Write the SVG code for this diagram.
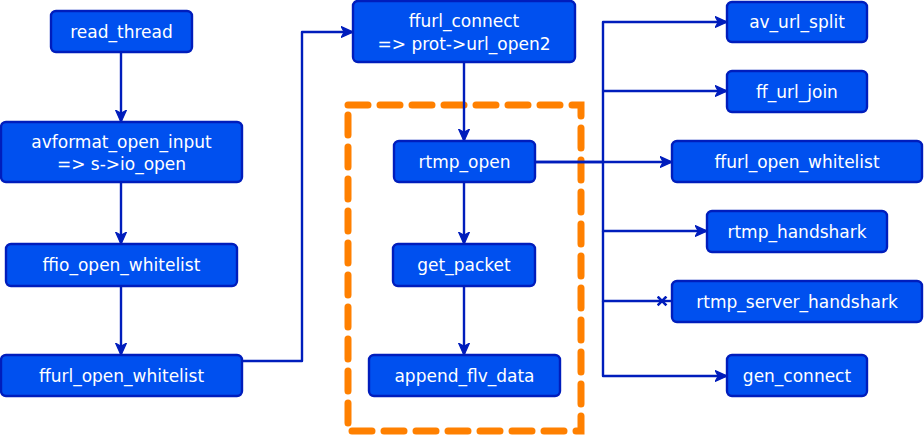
<svg xmlns="http://www.w3.org/2000/svg" width="924" height="435" viewBox="0 0 924 435">
<style>
.node rect{fill:#0050EF;stroke:#001DBC;stroke-width:2.4}
.node text{fill:#ffffff;font-family:"DejaVu Sans",Verdana,sans-serif;font-size:17px;text-anchor:middle;dominant-baseline:central}
.edge{fill:none;stroke:#001DBC;stroke-width:2.4;stroke-linejoin:round}
.group{fill:none;stroke:#FF8000;stroke-width:7;stroke-dasharray:20 12;stroke-linecap:round}
</style>
<defs>
<marker id="arr" viewBox="0 0 10 10" refX="9" refY="5" markerWidth="12" markerHeight="12" markerUnits="userSpaceOnUse" orient="auto">
<path d="M0,0.5 L10,5 L0,9.5 L2.5,5 Z" fill="#001DBC" stroke="#001DBC" stroke-width="1"/>
</marker>
<marker id="cross" viewBox="0 0 10 10" refX="5" refY="5" markerWidth="11" markerHeight="11" markerUnits="userSpaceOnUse" orient="auto">
<path d="M1,1 L9,9 M9,1 L1,9" stroke="#001DBC" stroke-width="2.4" fill="none"/>
</marker>
</defs>
<rect class="group" x="348" y="105" width="233" height="326"/>
<g id="connectors">
<path class="edge" d="M121,51 V121" marker-end="url(#arr)"/>
<path class="edge" d="M121,182 V243" marker-end="url(#arr)"/>
<path class="edge" d="M121,286 V354" marker-end="url(#arr)"/>
<path class="edge" d="M242,361 H302 V32 H352" marker-end="url(#arr)"/>
<path class="edge" d="M464,62 V140" marker-end="url(#arr)"/>
<path class="edge" d="M464,182 V243" marker-end="url(#arr)"/>
<path class="edge" d="M464,286 V354" marker-end="url(#arr)"/>
<path class="edge" d="M535,162 H603 V22 H726" marker-end="url(#arr)"/>
<path class="edge" d="M603,91 H726" marker-end="url(#arr)"/>
<path class="edge" d="M535,162 H671" marker-end="url(#arr)"/>
<path class="edge" d="M603,162 V231 H706" marker-end="url(#arr)"/>
<path class="edge" d="M603,231 V301 H662" marker-end="url(#cross)"/>
<path class="edge" d="M662,301 H672"/>
<path class="edge" d="M603,301 V376 H726" marker-end="url(#arr)"/>
</g>
<g id="read_thread" class="node"><rect x="51" y="11" width="141" height="41" rx="5"/><text x="121.5" y="31.5">read_thread</text></g>
<g id="avformat_open_input" class="node"><rect x="1" y="122" width="241" height="60" rx="5"/><text x="121.5" y="141.5">avformat_open_input</text><text x="121.5" y="164">=&gt; s-&gt;io_open</text></g>
<g id="ffio_open_whitelist" class="node"><rect x="6" y="244" width="231" height="42" rx="5"/><text x="121.5" y="265">ffio_open_whitelist</text></g>
<g id="ffurl_open_whitelist_left" class="node"><rect x="1" y="355" width="241" height="41" rx="5"/><text x="121.5" y="375.5">ffurl_open_whitelist</text></g>
<g id="ffurl_connect" class="node"><rect x="353" y="1" width="222" height="61" rx="5"/><text x="464" y="21">ffurl_connect</text><text x="464" y="44">=&gt; prot-&gt;url_open2</text></g>
<g id="rtmp_open" class="node"><rect x="394" y="141" width="141" height="41" rx="5"/><text x="464.5" y="161.5">rtmp_open</text></g>
<g id="get_packet" class="node"><rect x="393" y="244" width="142" height="42" rx="5"/><text x="464" y="265">get_packet</text></g>
<g id="append_flv_data" class="node"><rect x="369" y="355" width="191" height="41" rx="5"/><text x="464.5" y="375.5">append_flv_data</text></g>
<g id="av_url_split" class="node"><rect x="727" y="2" width="140" height="40" rx="5"/><text x="797" y="22">av_url_split</text></g>
<g id="ff_url_join" class="node"><rect x="727" y="71" width="140" height="41" rx="5"/><text x="797" y="91.5">ff_url_join</text></g>
<g id="ffurl_open_whitelist_right" class="node"><rect x="672" y="141" width="250" height="41" rx="5"/><text x="797" y="161.5">ffurl_open_whitelist</text></g>
<g id="rtmp_handshark" class="node"><rect x="707" y="211" width="180" height="41" rx="5"/><text x="797" y="231.5">rtmp_handshark</text></g>
<g id="rtmp_server_handshark" class="node"><rect x="672" y="281" width="250" height="41" rx="5"/><text x="797" y="301.5">rtmp_server_handshark</text></g>
<g id="gen_connect" class="node"><rect x="727" y="355" width="140" height="41" rx="5"/><text x="797" y="375.5">gen_connect</text></g>
</svg>
